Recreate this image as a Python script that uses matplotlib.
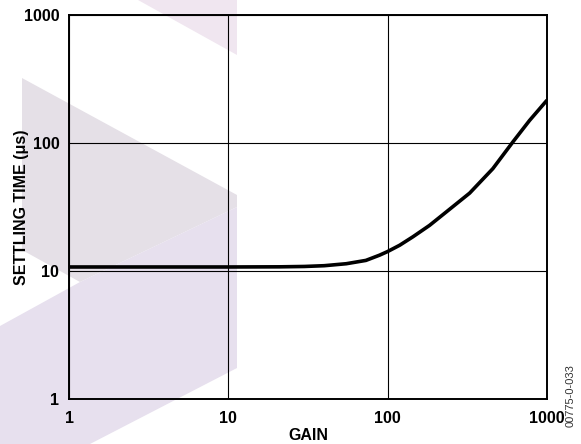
import matplotlib.pyplot as plt
from matplotlib.patches import Polygon

# data
gain = [1, 10, 21, 30, 40, 55, 73, 89, 100, 119, 144, 183, 233, 327, 457, 611, 777, 1000]
settling = [10.75, 10.75, 10.78, 10.85, 11.0, 11.4, 12.1, 13.3, 14.2, 15.9, 18.5,
            22.7, 28.9, 40.6, 63, 102, 150, 216]
ticks = [1, 10, 100, 1000]
tick_labels = ['1', '10', '100', '1000']

plt.rcParams['font.family'] = ['Liberation Sans', 'DejaVu Sans']

W, H = 581, 444
fig = plt.figure(figsize=(W / 100, H / 100), dpi=100)


def px(pts):
    return [(x / W, 1 - y / H) for x, y in pts]


# pale logo watermark behind the chart
wm = [
    (px([(138, 0), (237, 0), (237, 55)]), '#f0e6f0'),
    (px([(22, 78), (237, 195), (237, 207), (80, 282), (22, 250)]), '#e5e0e7'),
    (px([(237, 207), (237, 368), (90, 444), (0, 444), (0, 326), (80, 282)]), '#e7e0ee'),
]
for pts, c in wm:
    fig.patches.append(Polygon(pts, closed=True, transform=fig.transFigure,
                               facecolor=c, edgecolor='none', zorder=-1))

ax = fig.add_axes([69 / W, 1 - 399 / H, (547 - 69) / W, (399 - 15) / H])
ax.set_facecolor('none')
ax.set_zorder(2)

ax.plot(gain, settling, color='black', lw=2.6, solid_capstyle='butt', zorder=3)

ax.set_xscale('log')
ax.set_yscale('log')
ax.set_xlim(1, 1000)
ax.set_ylim(1, 1000)
ax.set_xticks(ticks)
ax.set_xticklabels(tick_labels)
ax.set_yticks(ticks)
ax.set_yticklabels(tick_labels)
ax.minorticks_off()
ax.tick_params(length=0, labelsize=11.5)
ax.tick_params(axis='y', pad=7)
ax.tick_params(axis='x', pad=8.3)
for lab in ax.get_xticklabels() + ax.get_yticklabels():
    lab.set_fontweight('bold')

ax.grid(True, which='major', color='black', lw=0.8)
for s in ax.spines.values():
    s.set_linewidth(1.4)

ax.set_xlabel('GAIN', fontsize=11.5, fontweight='bold', labelpad=2)
ax.set_ylabel('SETTLING TIME (\u03bcs)', fontsize=11.5, fontweight='bold', labelpad=-3.5)

fig.text(571 / W, 1 - 396 / H, '00775-0-033', rotation=90, fontsize=8,
         ha='center', va='center', color='#333333')

fig.savefig('out.png', dpi=100)
